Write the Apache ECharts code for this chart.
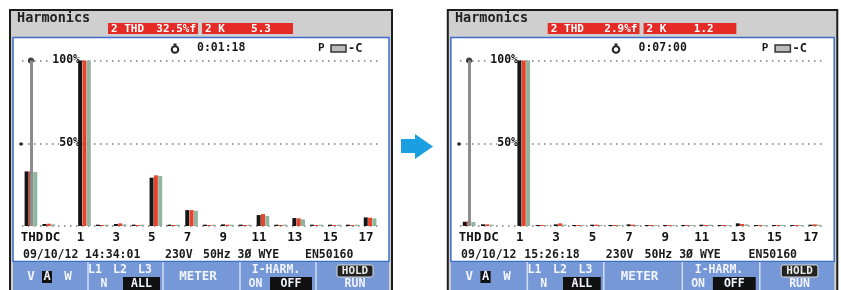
<!DOCTYPE html>
<html>
<head>
<meta charset="utf-8">
<script src="https://cdn.jsdelivr.net/npm/echarts@6/dist/echarts.min.js"></script>
<style>
  html, body { margin: 0; padding: 0; background: #fff; }
  #chart { width: 841px; height: 290px; }
</style>
</head>
<body>
<div id="chart"></div>
<script>
// harmonic order slots on the analyser screen (blank slot between DC and 1)
const harmonics = ['THD', 'DC', '', '1', '2', '3', '4', '5', '6', '7', '8', '9',
  '10', '11', '12', '13', '14', '15', '16', '17'];
const yTicks = [0, 50, 100];
const cursorAt = 'THD';

// before filter, % of fundamental, per phase
const beforeL1 = [33, 1.2, 0, 100, 0.8, 1.2, 0.8, 29.2, 0.8, 9.6, 0.8, 1, 0.8, 6.6, 0.8, 4.8, 0.8, 0.8, 0.8, 5.2];
const beforeL2 = [33, 1.4, 0, 100, 0.6, 1.6, 0.6, 30.6, 0.6, 9.6, 0.6, 0.8, 0.6, 7.2, 0.6, 4.6, 0.6, 0.6, 0.6, 5];
const beforeL3 = [32.6, 1, 0, 100, 0.8, 1, 0.8, 30.2, 0.8, 9.2, 0.8, 0.8, 0.8, 6, 0.8, 4, 0.8, 0.8, 0.8, 4.6];

// after filter
const afterL1 = [2.6, 1, 0, 100, 0.6, 1, 0.6, 0.8, 0.6, 1, 0.6, 0.6, 0.6, 0.8, 0.6, 1.6, 0.6, 0.6, 0.6, 0.8];
const afterL2 = [2.9, 1, 0, 100, 0.6, 1.6, 0.6, 0.8, 0.6, 0.8, 0.6, 0.6, 0.6, 0.6, 0.6, 1.2, 0.6, 0.6, 0.6, 1];
const afterL3 = [2.4, 0.8, 0, 100, 0.6, 0.8, 0.6, 0.6, 0.6, 0.6, 0.6, 0.6, 0.6, 0.8, 0.6, 1, 0.6, 0.6, 0.6, 0.8];

// screen readouts: thd value, K value, timer, date, clock
const beforeReadout = ['32.5%f', '5.3', '0:01:18', '09/10/12', '14:34:01'];
const afterReadout = ['2.9%f', '1.2', '0:07:00', '09/10/12', '15:26:18'];
const statusRow = ['230V', '50Hz 3Ø WYE', 'EN50160'];

const phaseColors = ['#161616', '#e5432c', '#8fb59f'];
const LCD = '"DejaVu Sans Mono", monospace';

const chart = echarts.init(document.getElementById('chart'));

function txt(x, y, text, opts) {
  return {
    type: 'text', x, y,
    style: Object.assign({
      text, fill: '#1a1a1a', fontFamily: LCD, fontWeight: 'bold', fontSize: 12,
      align: 'left', verticalAlign: 'middle'
    }, opts || {})
  };
}

function rect(x, y, w, h, style, r) {
  return { type: 'rect', shape: { x, y, width: w, height: h, r: r || 0 }, style };
}

// frame, header and soft-key bar of one analyser screen
function screen(ox, sx, r) {
  const X = x => ox + x * sx;
  const W = w => w * sx;
  const btn = '#f2f5ff';
  const els = [];
  els.push(rect(X(10), 10, W(382), 290, { fill: '#cfcfcf', stroke: '#1c1c1c', lineWidth: 2 }));
  els.push(rect(X(13), 37.5, W(376), 224, { fill: '#fff', stroke: '#3c6ec6', lineWidth: 1.5 }));
  els.push(rect(X(13), 262, W(376), 30, { fill: '#7698d6' }));
  [88, 163, 240, 316].forEach(s => els.push({
    type: 'line', shape: { x1: X(s), y1: 262, x2: X(s), y2: 290 },
    style: { stroke: '#d2ddf5', lineWidth: 1.5 }
  }));

  els.push(txt(X(17), 18.5, 'Harmonics', { fontSize: 13.5, fill: '#222' }));
  els.push(rect(X(108), 23, W(90), 11, { fill: '#e42b25' }));
  els.push(rect(X(202), 23, W(91), 11, { fill: '#e42b25' }));
  els.push(txt(X(111), 28.8, '2 THD', { fill: '#fff', fontSize: 11 }));
  els.push(txt(X(196), 28.8, r[0], { fill: '#fff', fontSize: 11, align: 'right' }));
  els.push(txt(X(205), 28.8, '2 K', { fill: '#fff', fontSize: 11 }));
  els.push(txt(X(261), 28.8, r[1], { fill: '#fff', fontSize: 11, align: 'center' }));

  // timer + status icons
  els.push({ type: 'circle', shape: { cx: X(175), cy: 49.5, r: 3.3 }, style: { fill: 'none', stroke: '#222', lineWidth: 2 } });
  els.push(rect(X(173.5), 43.5, 3, 2, { fill: '#222' }));
  els.push(txt(X(197), 48.5, r[2], { fontSize: 11.5 }));
  els.push(txt(X(318), 48.5, 'P', { fontSize: 11 }));
  els.push(rect(X(331), 45, W(15), 7, { fill: '#bbb', stroke: '#333', lineWidth: 1.5 }));
  els.push(txt(X(348), 48.5, '-C', { fontSize: 12 }));

  els.push({ type: 'circle', shape: { cx: X(21), cy: 144, r: 1.8 }, style: { fill: '#222' } });

  // date / status line
  els.push(txt(X(23), 255, r[3], { fontSize: 11.5 }));
  els.push(txt(X(85), 255, r[4], { fontSize: 11.5 }));
  els.push(txt(X(165), 255, statusRow[0], { fontSize: 11.5 }));
  els.push(txt(X(203), 255, statusRow[1], { fontSize: 11.5 }));
  els.push(txt(X(305), 255, statusRow[2], { fontSize: 11.5 }));

  // soft keys
  els.push(txt(X(31), 277, 'V', { fill: btn, fontSize: 12.5, align: 'center' }));
  els.push(rect(X(42), 271, W(10), 12, { fill: '#111' }));
  els.push(txt(X(47), 277, 'A', { fill: btn, fontSize: 12, align: 'center' }));
  els.push(txt(X(68), 277, 'W', { fill: btn, fontSize: 12.5, align: 'center' }));
  els.push(txt(X(95), 270, 'L1', { fill: btn, fontSize: 11.5, align: 'center' }));
  els.push(txt(X(120), 270, 'L2', { fill: btn, fontSize: 11.5, align: 'center' }));
  els.push(txt(X(145), 270, 'L3', { fill: btn, fontSize: 11.5, align: 'center' }));
  els.push(txt(X(104), 284, 'N', { fill: btn, fontSize: 11.5, align: 'center' }));
  els.push(rect(X(123), 277, W(37), 13, { fill: '#111' }));
  els.push(txt(X(141.5), 284, 'ALL', { fill: btn, fontSize: 11.5, align: 'center' }));
  els.push(txt(X(198), 277, 'METER', { fill: btn, fontSize: 12.5, align: 'center' }));
  els.push(txt(X(276), 270.5, 'I-HARM.', { fill: btn, fontSize: 11.5, align: 'center' }));
  els.push(txt(X(255.5), 284, 'ON', { fill: btn, fontSize: 11.5, align: 'center' }));
  els.push(rect(X(270), 277, W(42), 13, { fill: '#111' }));
  els.push(txt(X(291), 284, 'OFF', { fill: btn, fontSize: 11.5, align: 'center' }));
  els.push(rect(X(337), 265, W(36), 12, { fill: '#222', stroke: '#ddd', lineWidth: 1 }, 2));
  els.push(txt(X(355), 271, 'HOLD', { fill: '#e8e8e8', fontSize: 11, align: 'center' }));
  els.push(txt(X(355), 284, 'RUN', { fill: btn, fontSize: 11.5, align: 'center' }));
  return els;
}

const arrow = {
  type: 'polygon',
  shape: { points: [[401, 139], [415, 139], [415, 134], [433, 146.5], [415, 159], [415, 153], [401, 153]] },
  style: { fill: '#1a9fe3' }
};

const screens = [
  { ox: 0, sx: 1, phases: [beforeL1, beforeL2, beforeL3], readout: beforeReadout },
  { ox: 437.6, sx: 1.0196, phases: [afterL1, afterL2, afterL3], readout: afterReadout }
];

const grids = [], xAxes = [], yAxes = [], series = [];
let graphics = [];
screens.forEach((s, gi) => {
  graphics = graphics.concat(screen(s.ox, s.sx, s.readout));
  grids.push({ left: s.ox + 22 * s.sx, width: 357 * s.sx, top: 60.5, height: 165.5 });
  xAxes.push({
    type: 'category', gridIndex: gi, data: harmonics,
    axisLine: { show: false }, axisTick: { show: false }, splitLine: { show: false },
    axisLabel: {
      margin: 5, fontFamily: LCD, fontWeight: 'bold', fontSize: 12.5, color: '#111',
      hideOverlap: false,
      interval: (i, v) => v === 'THD' || v === 'DC' || Number(v) % 2 === 1,
      formatter: v => (v === 'THD' ? '{t|THD}' : v === 'DC' ? '{d|DC}' : '{n|' + v + '}'),
      rich: {
        t: { padding: [0, 0, 0, 2] },
        d: { padding: [0, 0, 0, 8] },
        n: { padding: [0, 8, 0, 0] }
      }
    }
  });
  yAxes.push({
    type: 'value', gridIndex: gi, min: yTicks[0], max: yTicks[2], interval: yTicks[1],
    axisLine: { show: false }, axisTick: { show: false },
    splitLine: { show: true, lineStyle: { color: '#7a7a7a', width: 1.5, type: [1.5, 4.5] } },
    axisLabel: {
      margin: -58, fontFamily: LCD, fontWeight: 'bold', fontSize: 11.5, color: '#111',
      backgroundColor: '#fff',
      formatter: v => (v === 0 ? '' : v + '%')
    }
  });
  s.phases.forEach((vals, pi) => series.push({
    type: 'bar', xAxisIndex: gi, yAxisIndex: gi, data: vals,
    barWidth: 4, barGap: '8%', z: 3, silent: true,
    itemStyle: { color: phaseColors[pi] }
  }));
  series.push({
    type: 'scatter', xAxisIndex: gi, yAxisIndex: gi, z: 2, silent: true,
    data: [[cursorAt, yTicks[2]]], symbol: 'circle', symbolSize: 6,
    itemStyle: { color: '#111' },
    markLine: {
      silent: true, symbol: ['none', 'none'], label: { show: false },
      lineStyle: { color: '#8c8c8c', width: 3, type: 'solid' },
      data: [{ xAxis: cursorAt }]
    }
  });
});
graphics.push(arrow);

chart.setOption({
  animation: false,
  backgroundColor: '#fff',
  grid: grids,
  xAxis: xAxes,
  yAxis: yAxes,
  series,
  graphic: { elements: graphics }
});
</script>
</body>
</html>
